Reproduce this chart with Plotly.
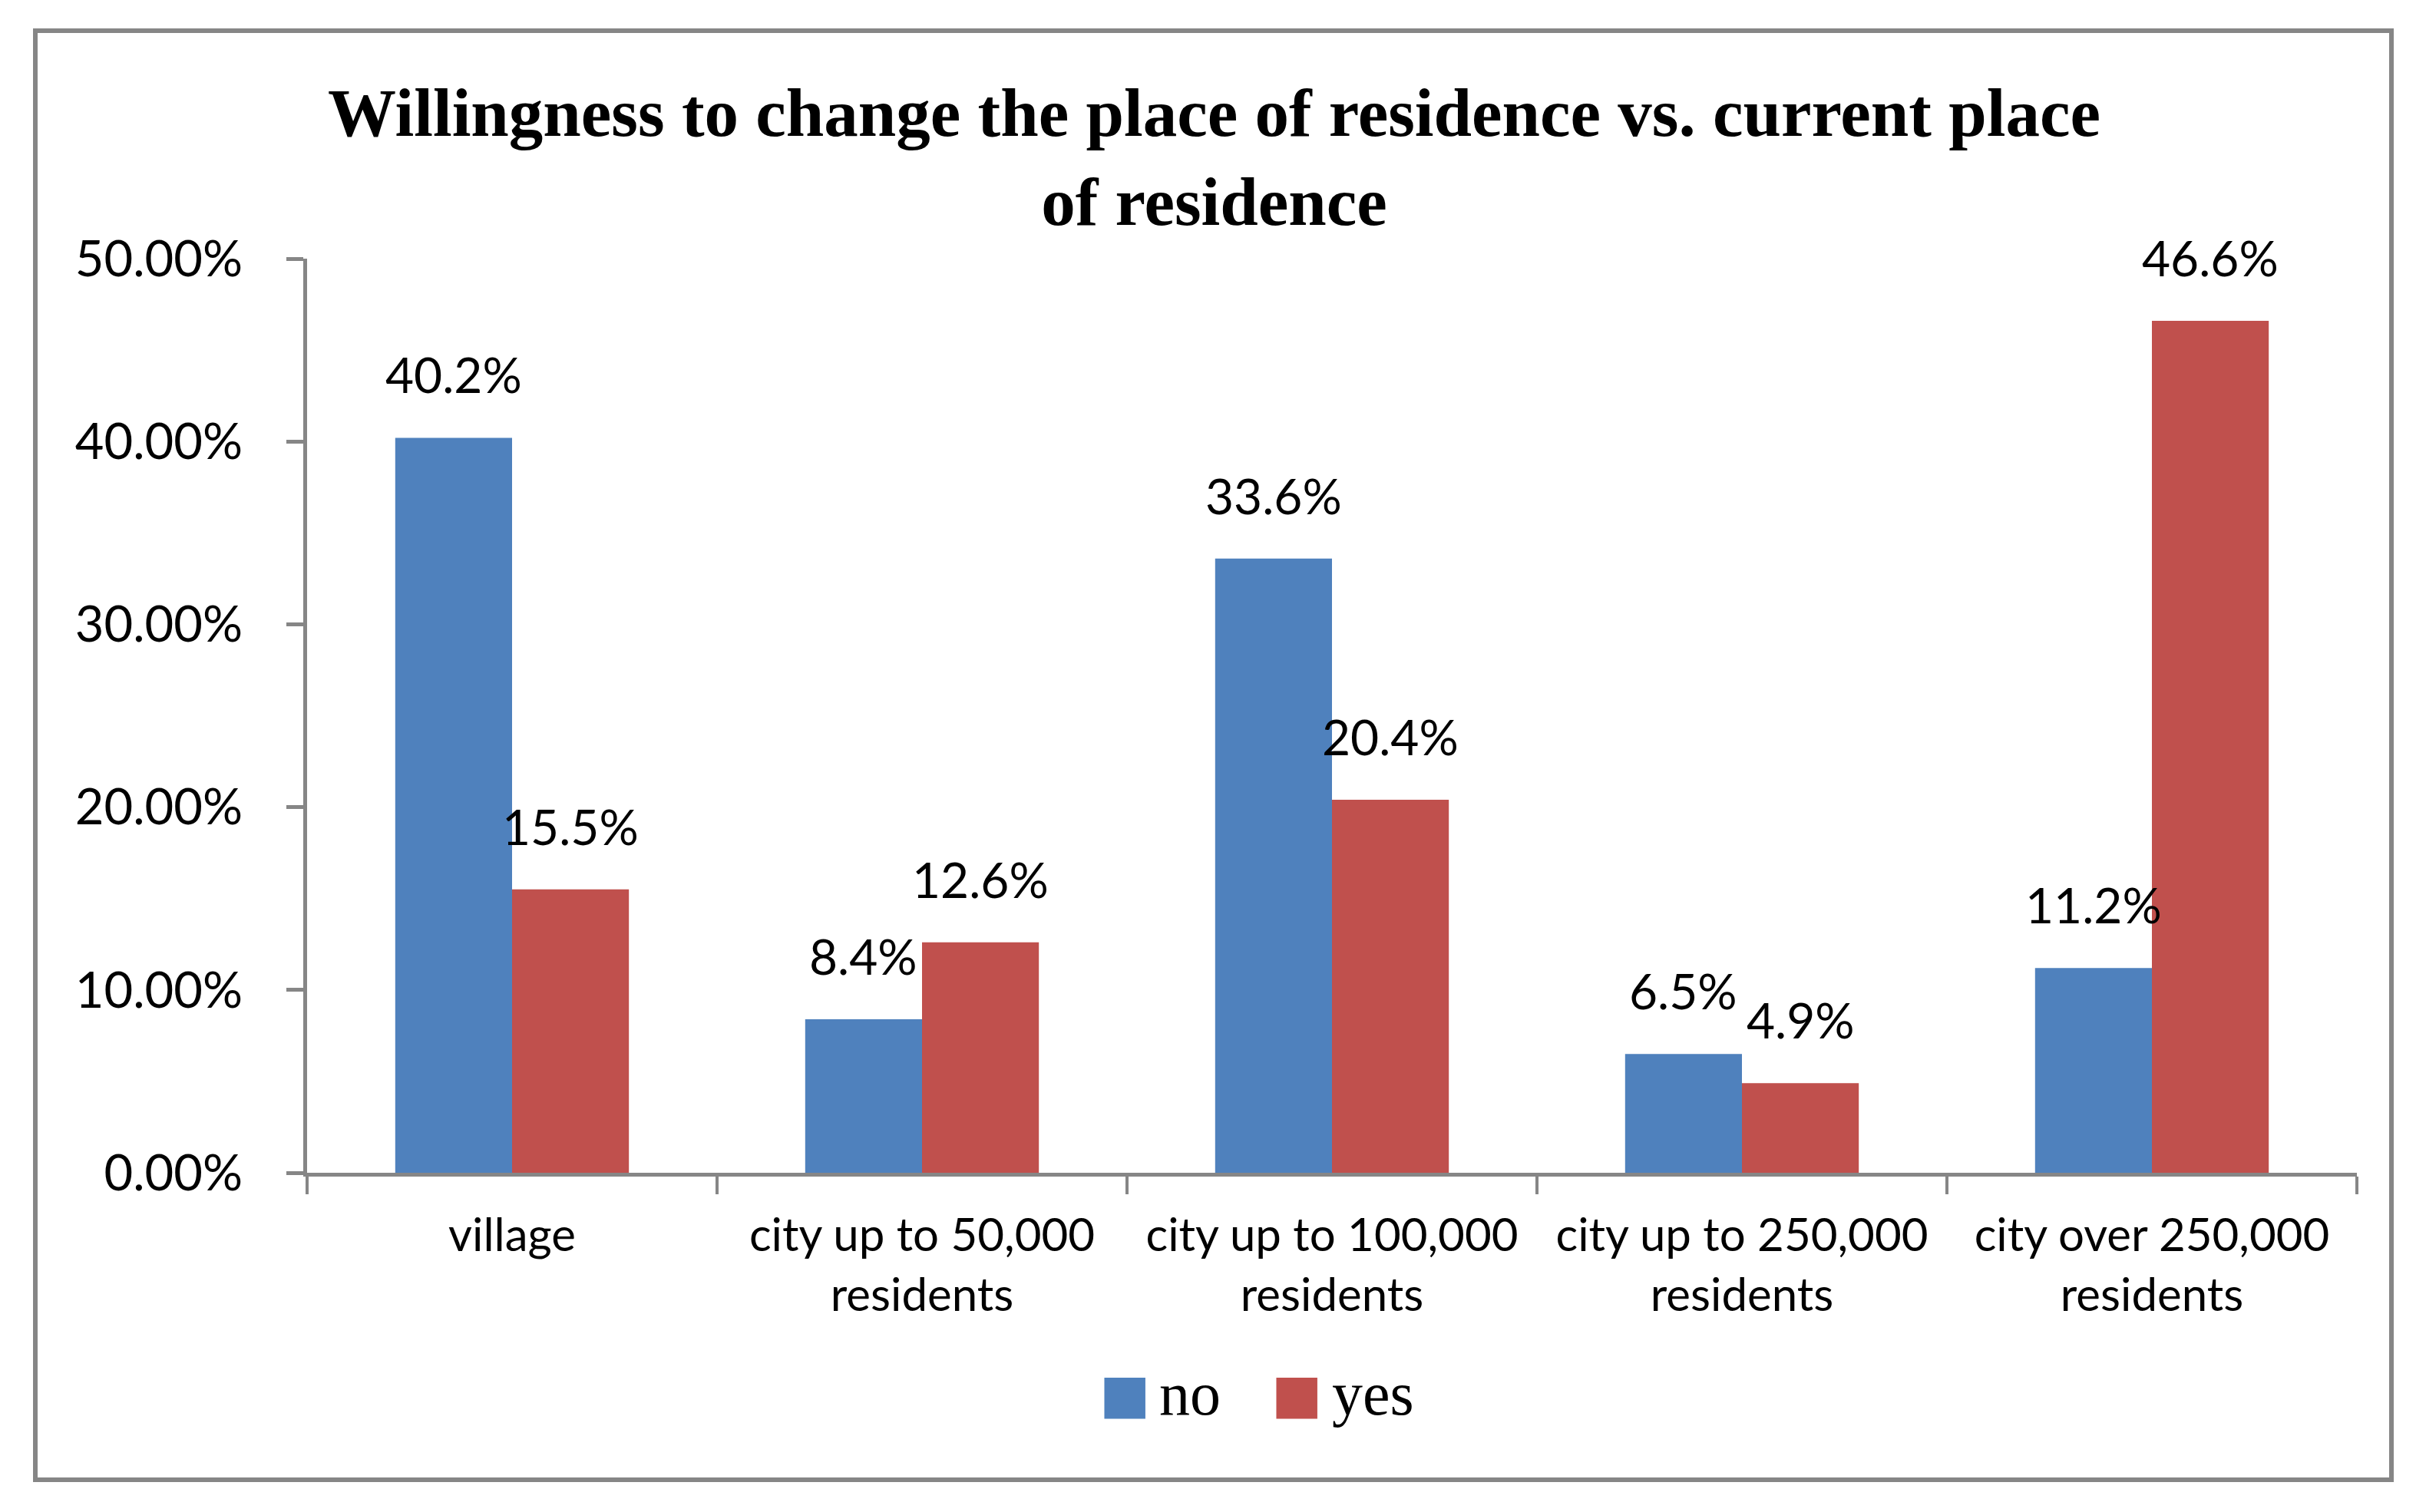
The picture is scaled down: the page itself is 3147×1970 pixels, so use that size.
import plotly.graph_objects as go

categories = ["village", "city up to 50,000<br>residents", "city up to 100,000<br>residents",
              "city up to 250,000<br>residents", "city over 250,000<br>residents"]
no_values = [0.402, 0.084, 0.336, 0.065, 0.112]
yes_values = [0.155, 0.126, 0.204, 0.049, 0.466]
series_names = ["no", "yes"]
y_ticks = [0, 0.1, 0.2, 0.3, 0.4, 0.5]
title_text = "Willingness to change the place of residence vs. current place<br>of residence"

W, H = 3147, 1970
ML, MR, MT, MB = 392, 85, 329, 450
BLUE = "#4F81BD"
RED = "#C0504D"
GRAY = "#868686"
SANS = "Lato"
SERIF = "Liberation Serif"
BARGAP = 0.43

PW = W - ML - MR
PH = H - MT - MB


# pixel position on the page -> paper coords
def px_x(x):
    return (x - ML) / PW


def px_y(y):
    return (H - MB - y) / PH


fig = go.Figure()
colors = [BLUE, RED]
series = [no_values, yes_values]
for name, vals, color in zip(series_names, series, colors):
    fig.add_trace(go.Bar(x=categories, y=vals, name=name, marker_color=color,
                         marker_line_width=0, showlegend=False))

# value labels above each bar (excel style, centered on the bar)
bar_w = PW / len(categories) * (1 - BARGAP) / 2
for k, vals in enumerate(series):
    shift = (k - 0.5) * bar_w
    for cat, v in zip(categories, vals):
        fig.add_annotation(x=cat, y=v, text=f"{v * 100:.1f}%", showarrow=False,
                           xshift=shift, yshift=42, yanchor="bottom",
                           font=dict(family=SANS, size=64, color="black"))

# legend below the axis
legend_items = [(1457, 1500), (1681, 1725)]
for (sx, tx), name, color in zip(legend_items, series_names, colors):
    fig.add_annotation(x=px_x(sx), y=px_y(1808), xref="paper", yref="paper", text="■",
                       showarrow=False, xanchor="center", yanchor="middle",
                       font=dict(family="DejaVu Sans", size=70, color=color))
    fig.add_annotation(x=px_x(tx), y=px_y(1808), xref="paper", yref="paper", text=name,
                       showarrow=False, xanchor="left", yanchor="middle",
                       font=dict(family=SERIF, size=80, color="black"))

# outer chart border
fig.add_shape(type="rect", xref="paper", yref="paper",
              x0=px_x(38), x1=px_x(3107), y0=px_y(1920), y1=px_y(32),
              line=dict(color=GRAY, width=6), fillcolor="rgba(0,0,0,0)", layer="below")

fig.update_layout(
    width=W, height=H,
    margin=dict(l=ML, r=MR, t=MT, b=MB),
    paper_bgcolor="white", plot_bgcolor="white",
    barmode="group", bargap=BARGAP, bargroupgap=0,
    title=dict(text=title_text, x=0.5, xref="container", y=1 - 169 / H, yanchor="top",
               font=dict(family=SERIF, size=89, color="black", weight="bold")),
)
fig.update_xaxes(showline=True, linecolor=GRAY, linewidth=5, showgrid=False,
                 ticks="outside", tickson="boundaries", ticklen=23, tickwidth=4, tickcolor=GRAY,
                 ticklabelstandoff=25,
                 tickfont=dict(family=SANS, size=60, color="black"))
fig.update_yaxes(range=[0, 0.5], tickvals=y_ticks, tickformat=".2%",
                 showline=True, linecolor=GRAY, linewidth=5, showgrid=False, zeroline=False,
                 ticks="outside", ticklen=22, tickwidth=5, tickcolor=GRAY,
                 ticklabelstandoff=44,
                 tickfont=dict(family=SANS, size=65, color="black"))

fig.write_html("out.html")
